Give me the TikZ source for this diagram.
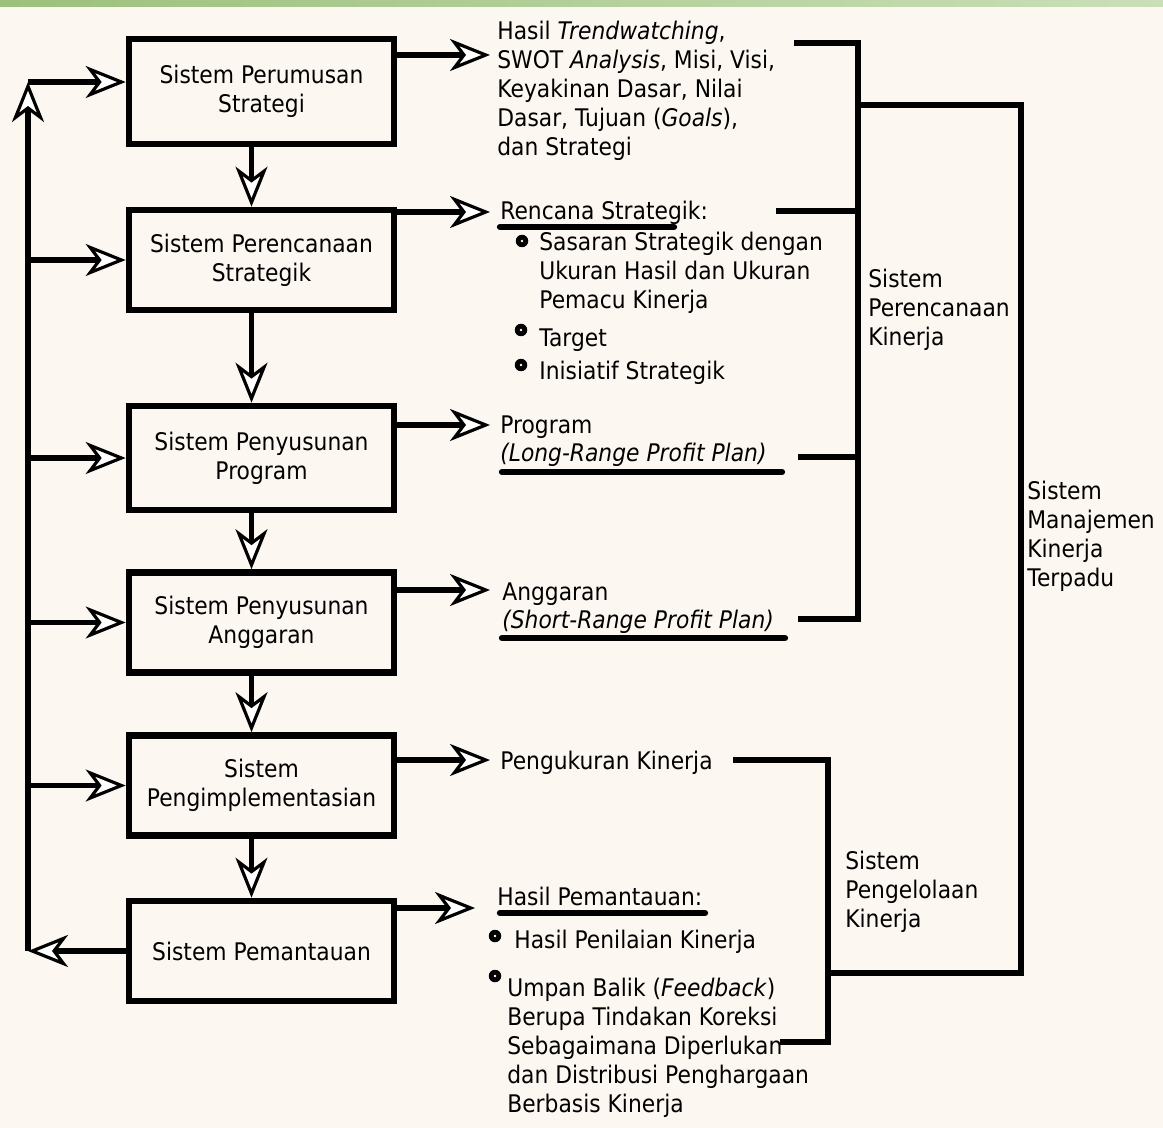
\documentclass[tikz,border=0pt]{standalone}
\usepackage{fontspec}
\setmainfont{DejaVu Sans}[FakeStretch=0.9]
\usetikzlibrary{arrows.meta}

\definecolor{paper}{HTML}{FDF7F1}
\definecolor{barleft}{HTML}{9DC07C}
\definecolor{barright}{HTML}{CADFB8}

\tikzset{
  sysbox/.style={draw, line width=3.8pt, minimum width=5.3cm, minimum height=2cm,
    align=center, inner sep=0pt},
  txt/.style={anchor=north west, align=left, inner sep=0pt},
  hol/.style={line width=3pt,
    -{Stealth[open, fill=white, length=0.8cm, width=0.64cm, inset=0.24cm, line width=1.8pt]}},
  brk/.style={line width=3.3pt},
  uline/.style={line width=3.6pt, line cap=round},
}

\begin{document}
\begin{tikzpicture}[x=0.02cm, y=-0.02cm, font=\fontsize{13.8}{16.4}\selectfont]
            \fill[paper] (0,0) rectangle (1163,1128);
            \shade[left color=barleft, right color=barright] (0,0) rectangle (1163,7);
            \useasboundingbox (0,0) rectangle (1163,1128);

            % the six systems
            \node[sysbox, minimum height=2.1cm] (b1) at (261.5,91.5) {Sistem Perumusan\\Strategi};
            \node[sysbox] (b2) at (261.5,260) {Sistem Perencanaan\\Strategik};
            \node[sysbox, minimum height=2.08cm] (b3) at (261.5,458) {Sistem Penyusunan\\Program};
            \node[sysbox] (b4) at (261.5,622.5) {Sistem Penyusunan\\Anggaran};
            \node[sysbox] (b5) at (261.5,785.5) {Sistem\\Pengimplementasian};
            \node[sysbox] (b6) at (261.5,951) {Sistem Pemantauan};

            \foreach \a/\b in {b1/b2,b2/b3,b3/b4,b4/b5,b5/b6}
              \draw[hol] ([xshift=-0.2cm]\a.south) -- ([xshift=-0.2cm]\b.north);

            % feedback loop
            \coordinate (top) at (28,82);
            \coordinate (bot) at (b6.west -| top);
            \draw[hol] (b6.west) -- (bot);
            \draw[hol] (bot) -- (top);
            \draw[hol] (top) -- (b1.west |- top);
            \foreach \b in {b2,b3,b4,b5}
              \draw[hol] (\b.west -| top) -- (\b.west);

            % outputs
            \foreach \i/\y/\t in {1/55/490,2/212/490,3/425/490,4/590/490,5/760/490,6/908/475} {
              \coordinate (o\i) at (\t,\y);
              \draw[hol] (b\i.east |- o\i) -- (o\i);
            }

            \node[txt] (t1) at (497,21) {Hasil \textit{Trendwatching}\/,\\SWOT \textit{Analysis}\/, Misi, Visi,\\Keyakinan Dasar, Nilai\\Dasar, Tujuan (\textit{Goals}),\\dan Strategi};
            \node[txt] (t2) at (500,201) {Rencana Strategik:};
            \node[txt] (s1) at (539,232) {Sasaran Strategik dengan\\Ukuran Hasil dan Ukuran\\Pemacu Kinerja};
            \node[txt] (s2) at (539,328) {Target};
            \node[txt] (s3) at (539,361) {Inisiatif Strategik};
            \node[txt] (t3) at (500,415) {Program\\\textit{(Long-Range Profit Plan)}};
            \node[txt] (t4) at (502,582) {Anggaran\\\textit{(Short-Range Profit Plan)}};
            \node[txt] (t5) at (500,751) {Pengukuran Kinerja};
            \node[txt] (t6) at (497,887) {Hasil Pemantauan:};
            \node[txt] (h1) at (514,930) {Hasil Penilaian Kinerja};
            \node[txt] (h2) at (507,978) {Umpan Balik (\textit{Feedback})\\Berupa Tindakan Koreksi\\Sebagaimana Diperlukan\\dan Distribusi Penghargaan\\Berbasis Kinerja};

            \foreach \p in {{522,241},{521,330},{521,365},{495,936},{495,976}} {
              \fill (\p) circle (0.125cm);
              \fill[white] (\p) circle (0.028cm);
            }

            \draw[uline] (500,227) -- (674,227);
            \draw[uline] (502,472) -- (782,472);
            \draw[uline] (502,638) -- (785,638);
            \draw[uline] (500,913) -- (705,913);

            % brackets
            \coordinate (e1) at (794,43);
            \coordinate (e2) at (776,211);
            \coordinate (e3) at (798,457);
            \coordinate (e4) at (798,619);
            \coordinate (e5) at (733,760);
            \coordinate (e6) at (780,1042);
            \coordinate (ja) at (858,105);
            \coordinate (jm) at (1021,973);
            \coordinate (jb) at (828,973);

            \draw[brk] (e1) -- (e1 -| ja) -- (e4 -| ja) -- (e4);
            \draw[brk] (e2) -- (e2 -| ja);
            \draw[brk] (e3) -- (e3 -| ja);
            \draw[brk, line width=3pt] (ja) -- (jm |- ja) -- (jm) -- (jb);
            \draw[brk] (e5) -- (e5 -| jb) -- (e6 -| jb) -- (e6);

            \node[txt] (la) at (868,269) {Sistem\\Perencanaan\\Kinerja};
            \node[txt] (lb) at (1027,481) {Sistem\\Manajemen\\Kinerja\\Terpadu};
            \node[txt] (lc) at (845,851) {Sistem\\Pengelolaan\\Kinerja};
            \end{tikzpicture}
\end{document}
